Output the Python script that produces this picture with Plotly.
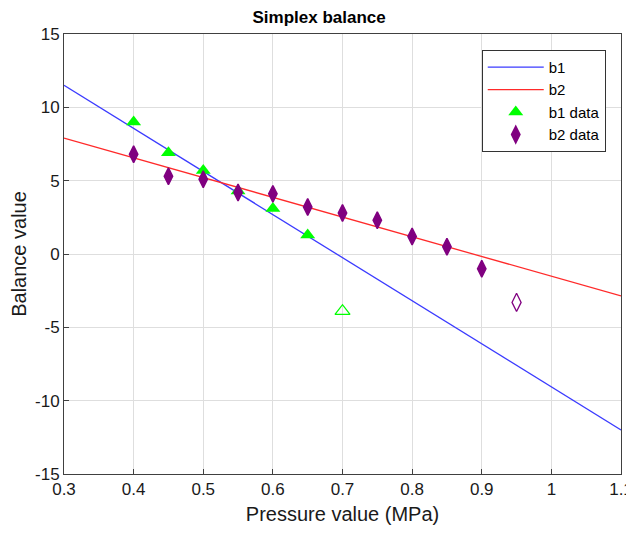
import plotly.graph_objects as go

x_line = [0.3, 1.1]
b1_line = [11.5, -12.0]
b2_line = [7.9, -2.86]

b1_x = [0.4, 0.45, 0.5, 0.55, 0.6, 0.65]
b1_y = [9.0, 6.9, 5.7, 4.3, 3.1, 1.3]
b1_out_x = [0.7]
b1_out_y = [-3.9]

b2_x = [0.4, 0.45, 0.5, 0.55, 0.6, 0.65, 0.7, 0.75, 0.8, 0.85, 0.9]
b2_y = [6.8, 5.3, 5.1, 4.2, 4.1, 3.2, 2.8, 2.3, 1.2, 0.5, -1.0]
b2_out_x = [0.95]
b2_out_y = [-3.3]

x_ticks = [0.3, 0.4, 0.5, 0.6, 0.7, 0.8, 0.9, 1.0, 1.1]
x_tick_labels = ["0.3", "0.4", "0.5", "0.6", "0.7", "0.8", "0.9", "1", "1.1"]
y_ticks = [-15, -10, -5, 0, 5, 10, 15]
y_tick_labels = ["-15", "-10", "-5", "0", "5", "10", "15"]

fig = go.Figure()
fig.add_trace(go.Scatter(x=x_line, y=b1_line, mode="lines", name="b1",
                         line=dict(color="#3b3bff", width=1.3)))
fig.add_trace(go.Scatter(x=x_line, y=b2_line, mode="lines", name="b2",
                         line=dict(color="#ff2a2a", width=1.3)))
fig.add_trace(go.Scatter(x=b1_x, y=b1_y, mode="markers", name="b1 data",
                         marker=dict(symbol="triangle-up", color="#00ff00", size=13)))
fig.add_trace(go.Scatter(x=b2_x, y=b2_y, mode="markers", name="b2 data",
                         marker=dict(symbol="diamond-tall", color="#800080", size=12,
                                     line=dict(color="#800080", width=1.5))))
fig.add_trace(go.Scatter(x=b1_out_x, y=b1_out_y, mode="markers", showlegend=False,
                         marker=dict(symbol="triangle-up-open", color="#00ff00", size=13,
                                     line=dict(width=1.3))))
fig.add_trace(go.Scatter(x=b2_out_x, y=b2_out_y, mode="markers", showlegend=False,
                         marker=dict(symbol="diamond-tall-open", color="#800080", size=13,
                                     line=dict(width=1.3))))

axis_common = dict(showgrid=True, gridcolor="#dedede", gridwidth=1,
                   showline=True, linecolor="#404040", linewidth=1, mirror=True,
                   ticks="inside", ticklen=5, tickcolor="#404040",
                   zeroline=False, automargin=False, ticklabeloverflow="allow",
                   tickfont=dict(size=17, color="#1a1a1a"))

fig.update_layout(
    width=626, height=528,
    margin=dict(l=56, r=13, t=26, b=62),
    paper_bgcolor="white", plot_bgcolor="white",
    font=dict(family="Liberation Sans, Arial, sans-serif", color="#1a1a1a"),
    title=dict(text="<b>Simplex balance</b>", x=0.497, xanchor="center",
               y=0.983, yanchor="middle", font=dict(size=17, color="black"),
               automargin=False),
    xaxis=dict(range=[0.3, 1.1], tickvals=x_ticks, ticktext=x_tick_labels,
               title=dict(text="Pressure value (MPa)", font=dict(size=20), standoff=8),
               **axis_common),
    yaxis=dict(range=[-15, 15], tickvals=y_ticks, ticktext=y_tick_labels,
               title=dict(text="Balance value", font=dict(size=20), standoff=6),
               **axis_common),
    legend=dict(x=0.75, y=0.964, xanchor="left", yanchor="top",
                bgcolor="white", bordercolor="#333333", borderwidth=1,
                font=dict(size=15, color="black"), tracegroupgap=0,
                itemwidth=56),
)

fig.write_html("out.html")
